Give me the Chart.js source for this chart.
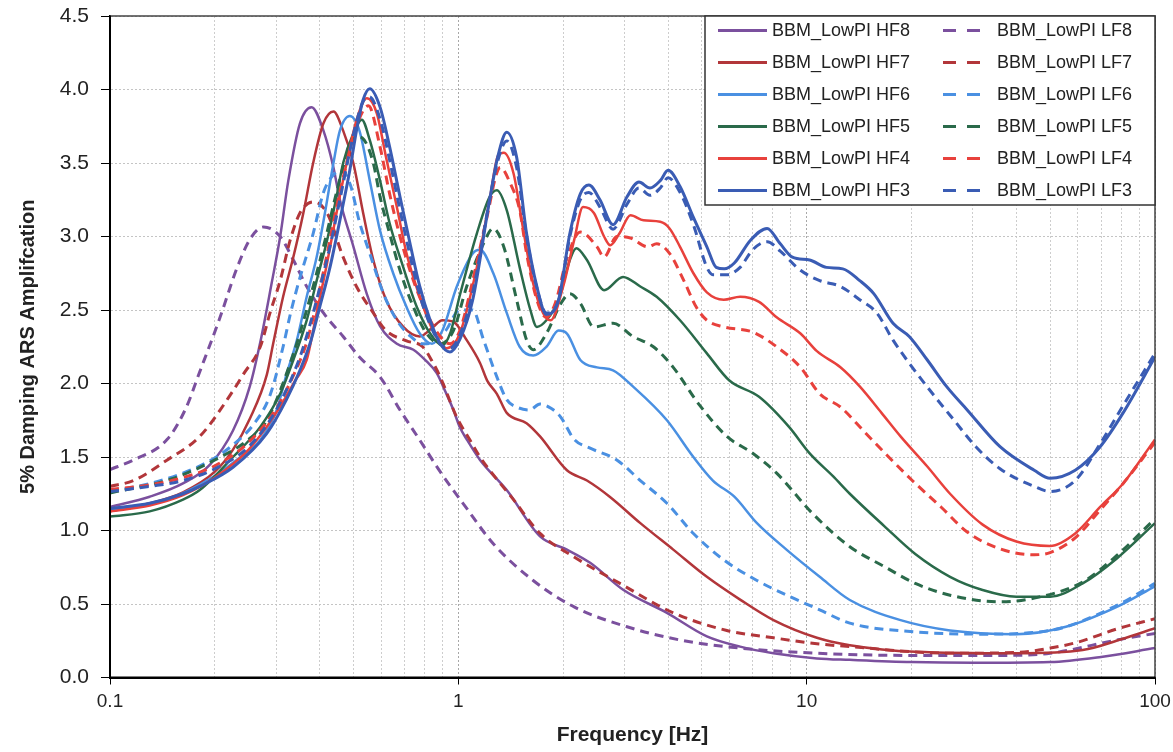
<!DOCTYPE html>
<html lang="en">
<head>
  <meta charset="UTF-8">
  <title>5% Damping ARS Amplification</title>
  <script src="https://cdn.jsdelivr.net/npm/chart.js"></script>
  <style>
    html, body { margin: 0; padding: 0; background: #fff; }
  </style>
</head>
<body>
  <canvas id="arsChart" width="1173" height="752"></canvas>

  <script>
    // Frequency [Hz] / amplification pairs, one pair of arrays per curve
    const freqHF8 = [0.1, 0.13, 0.162, 0.194, 0.2255, 0.252, 0.27, 0.291, 0.308, 0.325, 0.351, 0.379, 0.41, 0.438, 0.457, 0.5, 0.546, 0.596, 0.666, 0.743, 0.811, 0.867, 0.92, 0.968, 1.011, 1.057, 1.154, 1.377, 1.716, 2.05, 2.39, 2.98, 3.97, 5.17, 6.44, 8.03, 10.7, 13.3, 20, 30, 50, 70, 100];
    const ampHF8 = [1.16, 1.23, 1.32, 1.45, 1.68, 1.98, 2.28, 2.68, 3.0, 3.38, 3.77, 3.88, 3.72, 3.47, 3.25, 2.93, 2.61, 2.39, 2.27, 2.23, 2.15, 2.07, 1.94, 1.82, 1.70, 1.62, 1.48, 1.275, 0.96, 0.87, 0.78, 0.595, 0.44, 0.28, 0.21, 0.165, 0.13, 0.12, 0.105, 0.10, 0.105, 0.14, 0.20];

    const freqLF8 = [0.1, 0.117, 0.146, 0.165, 0.181, 0.207, 0.231, 0.252, 0.276, 0.308, 0.336, 0.367, 0.41, 0.467, 0.52, 0.596, 0.68, 0.775, 0.887, 1.057, 1.26, 1.64, 2.15, 3.05, 4.33, 6.44, 10.7, 20, 35, 50, 77.7, 100];
    const ampLF8 = [1.415, 1.48, 1.62, 1.83, 2.08, 2.45, 2.78, 2.98, 3.065, 3.0, 2.84, 2.66, 2.48, 2.32, 2.18, 2.045, 1.82, 1.615, 1.40, 1.15, 0.91, 0.66, 0.48, 0.345, 0.255, 0.20, 0.165, 0.15, 0.15, 0.165, 0.255, 0.30];

    const freqHF7 = [0.1, 0.13, 0.162, 0.2, 0.2255, 0.252, 0.282, 0.294, 0.314, 0.336, 0.359, 0.383, 0.41, 0.438, 0.467, 0.4995, 0.533, 0.57, 0.62, 0.695, 0.775, 0.846, 0.9, 0.968, 1.057, 1.154, 1.21, 1.29, 1.377, 1.57, 1.716, 2.05, 2.34, 2.72, 3.33, 4.14, 5.17, 6.44, 8.03, 10.7, 13.3, 20.5, 40, 62, 80, 100];
    const ampHF7 = [1.13, 1.185, 1.26, 1.40, 1.55, 1.76, 2.06, 2.27, 2.59, 2.86, 3.16, 3.5, 3.77, 3.85, 3.72, 3.5, 3.16, 2.84, 2.57, 2.385, 2.32, 2.385, 2.43, 2.42, 2.295, 2.14, 2.02, 1.93, 1.80, 1.73, 1.64, 1.41, 1.34, 1.23, 1.05, 0.87, 0.685, 0.53, 0.39, 0.27, 0.22, 0.175, 0.165, 0.187, 0.26, 0.335];

    const freqLF7 = [0.1, 0.117, 0.146, 0.181, 0.2255, 0.241, 0.27, 0.288, 0.308, 0.329, 0.351, 0.383, 0.42, 0.467, 0.51, 0.57, 0.62, 0.71, 0.79, 0.846, 0.887, 0.99, 1.08, 1.154, 1.44, 1.716, 2.15, 2.91, 4.14, 5.9, 8.03, 10.7, 13.3, 25.8, 40, 50, 60, 77.7, 100];
    const ampLF7 = [1.30, 1.34, 1.48, 1.64, 1.95, 2.06, 2.25, 2.48, 2.70, 2.975, 3.16, 3.235, 3.16, 2.86, 2.66, 2.48, 2.36, 2.29, 2.25, 2.14, 2.045, 1.77, 1.615, 1.50, 1.21, 0.98, 0.82, 0.64, 0.44, 0.32, 0.27, 0.23, 0.21, 0.165, 0.17, 0.20, 0.24, 0.33, 0.40];

    const freqHF6 = [0.1, 0.146, 0.198, 0.231, 0.27, 0.301, 0.321, 0.344, 0.367, 0.392, 0.414, 0.438, 0.457, 0.488, 0.52, 0.557, 0.596, 0.65, 0.71, 0.775, 0.84, 0.9, 0.99, 1.10, 1.154, 1.26, 1.377, 1.5, 1.64, 1.79, 1.94, 2.05, 2.24, 2.5, 2.78, 3.17, 3.97, 4.73, 5.38, 6.2, 7.2, 8.75, 10.9, 13.3, 18.6, 25.8, 40, 55.5, 77.7, 100];
    const ampHF6 = [1.14, 1.21, 1.365, 1.48, 1.615, 1.82, 2.06, 2.295, 2.59, 2.86, 3.16, 3.5, 3.72, 3.82, 3.72, 3.38, 3.04, 2.75, 2.52, 2.34, 2.27, 2.36, 2.66, 2.885, 2.91, 2.75, 2.48, 2.25, 2.19, 2.25, 2.36, 2.34, 2.16, 2.11, 2.09, 1.98, 1.75, 1.5, 1.34, 1.23, 1.05, 0.87, 0.685, 0.527, 0.39, 0.32, 0.295, 0.345, 0.48, 0.62];

    const freqLF6 = [0.1, 0.13, 0.162, 0.202, 0.23, 0.258, 0.288, 0.314, 0.33, 0.351, 0.383, 0.41, 0.438, 0.46, 0.49, 0.52, 0.557, 0.61, 0.666, 0.73, 0.79, 0.85, 0.92, 1.01, 1.10, 1.18, 1.29, 1.377, 1.47, 1.6, 1.716, 1.85, 1.97, 2.15, 2.39, 2.85, 3.33, 3.97, 4.73, 5.78, 7.2, 8.95, 10.9, 13.3, 20.5, 32, 50, 77.7, 100];
    const ampLF6 = [1.265, 1.32, 1.39, 1.5, 1.6, 1.72, 1.92, 2.25, 2.48, 2.72, 3.02, 3.3, 3.42, 3.45, 3.35, 3.1, 2.885, 2.61, 2.43, 2.32, 2.27, 2.28, 2.36, 2.5, 2.5, 2.3, 2.045, 1.89, 1.84, 1.82, 1.86, 1.83, 1.77, 1.62, 1.56, 1.48, 1.34, 1.185, 0.98, 0.8, 0.66, 0.55, 0.46, 0.37, 0.31, 0.295, 0.32, 0.49, 0.64];

    const freqHF5 = [0.1, 0.13, 0.162, 0.181, 0.2255, 0.27, 0.308, 0.336, 0.367, 0.392, 0.42, 0.447, 0.467, 0.4995, 0.528, 0.557, 0.596, 0.635, 0.695, 0.76, 0.83, 0.9, 0.95, 1.01, 1.13, 1.23, 1.29, 1.377, 1.5, 1.61, 1.68, 1.79, 1.94, 2.09, 2.18, 2.34, 2.62, 2.97, 3.33, 3.71, 4.33, 5.17, 6.0, 7.3, 8.9, 10.2, 11.9, 13.3, 16.7, 20.5, 25.8, 32, 40, 50, 62, 77.7, 100];
    const ampHF5 = [1.095, 1.13, 1.21, 1.275, 1.5, 1.705, 1.93, 2.16, 2.43, 2.7, 2.975, 3.27, 3.5, 3.7, 3.795, 3.655, 3.38, 3.09, 2.79, 2.52, 2.34, 2.26, 2.35, 2.6, 3.02, 3.27, 3.315, 3.18, 2.79, 2.5, 2.385, 2.43, 2.57, 2.84, 2.92, 2.84, 2.635, 2.725, 2.66, 2.59, 2.43, 2.205, 2.02, 1.91, 1.705, 1.525, 1.37, 1.25, 1.03, 0.84, 0.685, 0.595, 0.55, 0.55, 0.64, 0.81, 1.05];

    const freqLF5 = [0.1, 0.15, 0.2, 0.25, 0.282, 0.336, 0.367, 0.392, 0.42, 0.447, 0.478, 0.51, 0.53, 0.57, 0.596, 0.635, 0.68, 0.743, 0.811, 0.887, 0.968, 1.057, 1.18, 1.26, 1.35, 1.47, 1.57, 1.64, 1.79, 1.97, 2.09, 2.24, 2.45, 2.78, 3.17, 3.63, 4.14, 4.9, 5.9, 7.0, 8.2, 10.4, 13.3, 16.7, 20.5, 25.8, 35.7, 45, 62, 77.7, 100];
    const ampLF5 = [1.255, 1.35, 1.48, 1.62, 1.75, 2.2, 2.5, 2.75, 3.03, 3.3, 3.55, 3.68, 3.67, 3.5, 3.27, 3.02, 2.77, 2.52, 2.34, 2.27, 2.36, 2.66, 2.95, 3.055, 2.93, 2.57, 2.295, 2.23, 2.34, 2.545, 2.61, 2.545, 2.385, 2.41, 2.32, 2.25, 2.11, 1.86, 1.64, 1.525, 1.39, 1.115, 0.89, 0.755, 0.64, 0.56, 0.515, 0.54, 0.65, 0.83, 1.08];

    const freqHF4 = [0.1, 0.13, 0.162, 0.2, 0.25, 0.3, 0.34, 0.367, 0.392, 0.42, 0.447, 0.478, 0.51, 0.546, 0.583, 0.62, 0.666, 0.71, 0.775, 0.846, 0.925, 1.01, 1.13, 1.23, 1.3, 1.35, 1.44, 1.53, 1.64, 1.75, 1.84, 2.0, 2.15, 2.28, 2.45, 2.62, 2.73, 2.9, 3.12, 3.4, 3.8, 4.04, 4.33, 4.73, 5.17, 5.78, 6.44, 7.3, 8.2, 9.6, 10.7, 12.5, 14.2, 16.4, 18.6, 22.2, 25.8, 32, 40, 50, 59, 69.6, 81, 100];
    const ampHF4 = [1.13, 1.17, 1.24, 1.36, 1.55, 1.8, 2.02, 2.16, 2.48, 2.82, 3.16, 3.5, 3.79, 3.94, 3.84, 3.54, 3.2, 2.885, 2.59, 2.36, 2.24, 2.34, 2.79, 3.25, 3.55, 3.57, 3.43, 3.07, 2.68, 2.48, 2.43, 2.66, 2.975, 3.2, 3.16, 3.0, 2.94, 3.02, 3.145, 3.11, 3.1, 3.055, 2.93, 2.75, 2.62, 2.57, 2.59, 2.555, 2.45, 2.34, 2.22, 2.11, 1.98, 1.8, 1.64, 1.435, 1.25, 1.04, 0.925, 0.895, 0.98, 1.16, 1.32, 1.62];

    const freqLF4 = [0.1, 0.13, 0.162, 0.2, 0.25, 0.3, 0.34, 0.367, 0.392, 0.42, 0.447, 0.478, 0.51, 0.552, 0.596, 0.635, 0.68, 0.743, 0.811, 0.887, 0.946, 1.01, 1.1, 1.2, 1.32, 1.41, 1.5, 1.57, 1.68, 1.79, 1.9, 2.05, 2.24, 2.5, 2.62, 2.85, 3.12, 3.5, 3.71, 4.04, 4.44, 4.82, 5.17, 5.78, 7.0, 8.2, 9.6, 10.9, 12.5, 14.8, 17.2, 20.1, 24.3, 28.9, 35.9, 45, 50, 59, 69.6, 81, 100];
    const ampLF4 = [1.28, 1.31, 1.36, 1.44, 1.6, 1.83, 2.08, 2.28, 2.55, 2.88, 3.2, 3.5, 3.75, 3.89, 3.61, 3.29, 3.0, 2.7, 2.48, 2.32, 2.27, 2.36, 2.7, 3.1, 3.47, 3.36, 3.18, 2.885, 2.57, 2.45, 2.55, 2.85, 3.03, 2.93, 2.86, 3.0, 2.99, 2.93, 2.95, 2.885, 2.7, 2.52, 2.43, 2.385, 2.35, 2.25, 2.11, 1.93, 1.84, 1.66, 1.5, 1.34, 1.16, 0.99, 0.875, 0.835, 0.85, 0.95, 1.14, 1.32, 1.6];

    const freqHF3 = [0.1, 0.13, 0.162, 0.181, 0.2255, 0.282, 0.321, 0.351, 0.375, 0.4, 0.428, 0.457, 0.488, 0.51, 0.533, 0.557, 0.596, 0.635, 0.68, 0.73, 0.775, 0.83, 0.887, 0.946, 1.01, 1.1, 1.23, 1.3, 1.377, 1.47, 1.57, 1.68, 1.79, 1.94, 2.09, 2.24, 2.37, 2.55, 2.78, 3.05, 3.3, 3.55, 3.8, 4.0, 4.33, 4.73, 5.17, 5.5, 5.8, 6.2, 6.9, 7.7, 8.4, 9.1, 10.2, 11.4, 12.7, 14.2, 15.6, 17.7, 19.7, 22.2, 25.2, 28.9, 35.9, 45, 50, 59, 69.6, 81, 100];
    const ampHF3 = [1.15, 1.185, 1.25, 1.3, 1.43, 1.66, 1.89, 2.09, 2.27, 2.52, 2.79, 3.11, 3.45, 3.72, 3.93, 4.005, 3.88, 3.61, 3.27, 2.93, 2.66, 2.43, 2.27, 2.215, 2.3, 2.57, 3.25, 3.55, 3.71, 3.54, 3.02, 2.66, 2.47, 2.57, 3.02, 3.29, 3.35, 3.25, 3.08, 3.27, 3.37, 3.33, 3.38, 3.45, 3.34, 3.13, 2.93, 2.79, 2.78, 2.82, 2.975, 3.055, 2.95, 2.86, 2.84, 2.79, 2.78, 2.7, 2.61, 2.41, 2.32, 2.16, 1.98, 1.82, 1.57, 1.41, 1.355, 1.41, 1.57, 1.8, 2.18];

    const freqLF3 = [0.1, 0.13, 0.162, 0.2, 0.25, 0.3, 0.351, 0.375, 0.4, 0.428, 0.457, 0.488, 0.51, 0.533, 0.555, 0.596, 0.635, 0.68, 0.73, 0.775, 0.83, 0.887, 0.946, 1.01, 1.1, 1.23, 1.3, 1.377, 1.47, 1.57, 1.68, 1.79, 1.94, 2.09, 2.24, 2.37, 2.55, 2.78, 3.05, 3.3, 3.55, 3.8, 4.0, 4.33, 4.73, 5.17, 5.38, 5.9, 6.44, 7.0, 7.7, 8.4, 9.6, 10.9, 12.5, 14.2, 15.9, 17.7, 20.1, 23.0, 26.5, 30.6, 35.9, 45, 50, 59, 69.6, 81, 100];
    const ampLF3 = [1.265, 1.3, 1.34, 1.42, 1.57, 1.82, 2.18, 2.4, 2.65, 2.93, 3.25, 3.58, 3.78, 3.92, 3.95, 3.8, 3.52, 3.18, 2.85, 2.6, 2.4, 2.27, 2.24, 2.33, 2.62, 3.25, 3.52, 3.65, 3.47, 3.0, 2.65, 2.48, 2.57, 3.0, 3.25, 3.3, 3.2, 3.05, 3.22, 3.33, 3.28, 3.33, 3.4, 3.3, 3.08, 2.79, 2.74, 2.74, 2.79, 2.91, 2.965, 2.9, 2.77, 2.7, 2.66, 2.57, 2.48, 2.295, 2.11, 1.93, 1.75, 1.57, 1.42, 1.3, 1.265, 1.34, 1.59, 1.85, 2.205];

    // y axis ticks
    const yTicks = [0, 0.5, 1.0, 1.5, 2.0, 2.5, 3.0, 3.5, 4.0, 4.5];

    // colours
    const purple = '#7b509e';
    const darkRed = '#b2363a';
    const lightBlue = '#4a90e2';
    const darkGreen = '#2a6a4a';
    const red = '#e8413c';
    const blue = '#3a5cb4';

    // legend order: row by row, solid (HF) then dashed (LF)
    const series = [
      { label: 'BBM_LowPI HF8', freq: freqHF8, amp: ampHF8, color: purple, dashed: false },
      { label: 'BBM_LowPI LF8', freq: freqLF8, amp: ampLF8, color: purple, dashed: true },
      { label: 'BBM_LowPI HF7', freq: freqHF7, amp: ampHF7, color: darkRed, dashed: false },
      { label: 'BBM_LowPI LF7', freq: freqLF7, amp: ampLF7, color: darkRed, dashed: true },
      { label: 'BBM_LowPI HF6', freq: freqHF6, amp: ampHF6, color: lightBlue, dashed: false },
      { label: 'BBM_LowPI LF6', freq: freqLF6, amp: ampLF6, color: lightBlue, dashed: true },
      { label: 'BBM_LowPI HF5', freq: freqHF5, amp: ampHF5, color: darkGreen, dashed: false },
      { label: 'BBM_LowPI LF5', freq: freqLF5, amp: ampLF5, color: darkGreen, dashed: true },
      { label: 'BBM_LowPI HF4', freq: freqHF4, amp: ampHF4, color: red, dashed: false },
      { label: 'BBM_LowPI LF4', freq: freqLF4, amp: ampLF4, color: red, dashed: true },
      { label: 'BBM_LowPI HF3', freq: freqHF3, amp: ampHF3, color: blue, dashed: false },
      { label: 'BBM_LowPI LF3', freq: freqLF3, amp: ampLF3, color: blue, dashed: true }
    ];

    const FONT = '"Liberation Sans", Arial, Helvetica, sans-serif';

    // vertical grid at 1..9 x 10^k
    const xGrid = [];
    for (let k = -1; k <= 1; k++) {
      for (let m = 1; m <= 9; m++) xGrid.push(Number((m * Math.pow(10, k)).toPrecision(3)));
    }
    xGrid.push(100);

    function isDecade(v) {
      const l = Math.log10(v);
      return Math.abs(l - Math.round(l)) < 1e-9;
    }

    const datasets = series.map((s, i) => ({
      label: s.label,
      data: s.freq.map((f, j) => ({ x: f, y: s.amp[j] })),
      borderColor: s.color,
      backgroundColor: s.color,
      borderWidth: s.dashed ? 3 : (s.color === blue ? 3 : 2.5),
      borderDash: s.dashed ? [9, 6] : [],
      pointRadius: 0,
      cubicInterpolationMode: 'monotone',
      fill: false,
      order: series.length - i
    }));

    // plot frame: dark left/bottom axes, thinner top/right
    const frame = {
      id: 'frame',
      afterDatasetsDraw(chart) {
        const { ctx, chartArea: a } = chart;
        ctx.save();
        ctx.strokeStyle = '#444';
        ctx.lineWidth = 1.5;
        ctx.beginPath();
        ctx.moveTo(a.left, a.top);
        ctx.lineTo(a.right, a.top);
        ctx.lineTo(a.right, a.bottom);
        ctx.stroke();
        ctx.strokeStyle = '#000';
        ctx.lineWidth = 2;
        ctx.beginPath();
        ctx.moveTo(a.left, a.top);
        ctx.lineTo(a.left, a.bottom);
        ctx.lineTo(a.right, a.bottom);
        ctx.stroke();
        ctx.restore();
      }
    };

    // two-column legend box in the top right corner of the plot
    const legendBox = {
      id: 'legendBox',
      afterDraw(chart) {
        const { ctx, chartArea: a } = chart;
        const w = 450, h = 189;
        const x0 = a.right - w, y0 = a.top;
        ctx.save();
        ctx.fillStyle = '#fff';
        ctx.fillRect(x0, y0, w, h);
        ctx.strokeStyle = '#333';
        ctx.lineWidth = 1.5;
        ctx.strokeRect(x0, y0, w, h);
        ctx.font = '18px ' + FONT;
        ctx.textBaseline = 'middle';
        chart.data.datasets.forEach((ds, i) => {
          const col = i % 2;
          const row = Math.floor(i / 2);
          const y = y0 + 14.5 + row * 32;
          const lx = x0 + (col ? 238 : 13);
          const len = col ? 39 : 49;
          ctx.strokeStyle = ds.borderColor;
          ctx.lineWidth = 3;
          ctx.setLineDash(col ? [13, 11] : []);
          ctx.beginPath();
          ctx.moveTo(lx, y);
          ctx.lineTo(lx + len, y);
          ctx.stroke();
          ctx.setLineDash([]);
          ctx.fillStyle = '#222';
          ctx.fillText(ds.label, x0 + (col ? 292 : 67), y + 1);
        });
        ctx.restore();
      }
    };

    new Chart(document.getElementById('arsChart'), {
      type: 'line',
      data: { datasets: datasets },
      options: {
        responsive: false,
        animation: false,
        layout: { padding: { top: 16, right: 18, left: 0, bottom: 0 } },
        plugins: {
          legend: { display: false },
          tooltip: { enabled: false }
        },
        scales: {
          x: {
            type: 'logarithmic',
            min: 0.1,
            max: 100,
            afterBuildTicks(scale) {
              scale.ticks = xGrid.map(v => ({ value: v }));
            },
            afterFit(scale) {
              scale.height = 74.5;
              scale.paddingLeft = 0;
              scale.paddingRight = 0;
            },
            ticks: {
              autoSkip: false,
              maxRotation: 0,
              padding: 6,
              color: '#222',
              font: { family: FONT, size: 19 },
              callback: v => (isDecade(v) ? String(Number(v.toPrecision(3))) : '')
            },
            grid: {
              color: c => (c.tick && isDecade(c.tick.value) ? '#a8a8a8' : '#cdcdcd'),
              lineWidth: 1,
              tickLength: 7,
              tickColor: c => (c.tick && isDecade(c.tick.value) ? '#000' : 'rgba(0,0,0,0)')
            },
            border: { display: true, color: '#000', width: 2, dash: [2, 2] },
            title: {
              display: true,
              text: 'Frequency [Hz]',
              color: '#222',
              font: { family: FONT, size: 21, weight: 'bold' },
              padding: { top: 0, bottom: 4 }
            }
          },
          y: {
            min: 0,
            max: 4.5,
            afterBuildTicks(scale) {
              scale.ticks = yTicks.map(v => ({ value: v }));
            },
            afterFit(scale) {
              scale.width = 110;
              scale.paddingTop = 0;
              scale.paddingBottom = 0;
            },
            ticks: {
              padding: 12,
              color: '#222',
              font: { family: FONT, size: 21 },
              callback: v => Number(v).toFixed(1)
            },
            grid: {
              color: '#c4c4c4',
              lineWidth: 1,
              tickLength: 9,
              tickColor: '#000'
            },
            border: { display: true, color: '#000', width: 2, dash: [2, 2] },
            title: {
              display: true,
              text: '5% Damping ARS Amplifcation',
              color: '#222',
              font: { family: FONT, size: 20, weight: 'bold' },
              padding: { top: 16, bottom: 0 }
            }
          }
        }
      },
      plugins: [frame, legendBox]
    });
  </script>
</body>
</html>
